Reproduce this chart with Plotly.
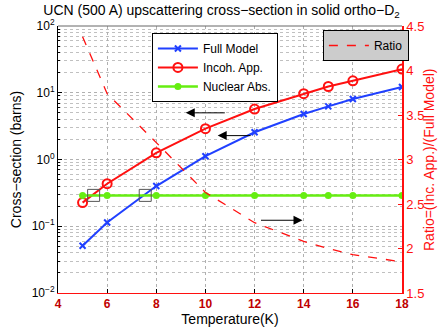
import numpy as np
import plotly.graph_objects as go

# temperatures (K) and cross-sections (barns)
temps = [5, 6, 8, 10, 12, 14, 15, 16, 18]
full_model = [0.051, 0.114, 0.40, 1.12, 2.56, 4.8, 6.25, 8.05, 12.2]
incoh_app = [0.226, 0.434, 1.26, 2.9, 5.7, 9.7, 12.4, 15.1, 22.6]
nuclear_abs = [0.29, 0.29, 0.29, 0.29, 0.29, 0.29, 0.29, 0.29, 0.29]
ratio = [4.38, 3.74, 3.19, 2.63, 2.29, 2.08, 2.0, 1.93, 1.85]

# crossing markers (small boxes)
cross_t = [5.45, 7.55]
cross_val = [0.29, 0.29]

# arrows: (tail T, head T, level)
arrow_tail = [10.85, 11.9, 12.2]
arrow_head = [9.2, 10.5, 13.95]
arrow_level = [5.0, 2.28, 0.123]

y_ticks = [0.01, 0.1, 1, 10, 100]
y_ticktext = ["10<sup>−2</sup>", "10<sup>−1</sup>", "10<sup>0</sup>", "10<sup>1</sup>", "10<sup>2</sup>"]
minor_vals = [m * d for d in [0.01, 0.1, 1, 10] for m in range(2, 10)]

FONT = "Liberation Sans, Arial, sans-serif"
BLUE = "#2040ff"
RED = "#ff1010"
GREEN = "#66ee11"

fig = go.Figure()

fig.add_trace(go.Scatter(x=temps, y=full_model, name="Full Model", mode="lines+markers",
                         line=dict(color=BLUE, width=2),
                         marker=dict(symbol="x-thin", size=6, line=dict(color=BLUE, width=2))))
fig.add_trace(go.Scatter(x=temps, y=incoh_app, name="Incoh. App.", mode="lines+markers",
                         line=dict(color=RED, width=2),
                         marker=dict(symbol="circle-open", size=9, color=RED, line=dict(width=2))))
fig.add_trace(go.Scatter(x=temps, y=nuclear_abs, name="Nuclear Abs.", mode="lines+markers",
                         line=dict(color=GREEN, width=2.5),
                         marker=dict(symbol="circle", size=7, color=GREEN)))
fig.add_trace(go.Scatter(x=cross_t, y=cross_val, mode="markers", showlegend=False,
                         marker=dict(symbol="square-open", size=12, color="#555555", line=dict(width=1))))
fig.add_trace(go.Scatter(x=temps, y=ratio, name="Ratio", mode="lines", yaxis="y2",
                         legend="legend2",
                         line=dict(color=RED, width=1.3, dash="dash")))

for t0, t1, v in zip(arrow_tail, arrow_head, arrow_level):
    fig.add_annotation(x=t1, y=np.log10(v), ax=t0, ay=np.log10(v), xref="x", yref="y",
                       axref="x", ayref="y", text="", showarrow=True,
                       arrowhead=2, arrowsize=1.8, arrowwidth=1, arrowcolor="black")

# right axis title
fig.add_annotation(text="Ratio=(Inc. App.)/(Full Model)", xref="paper", yref="paper",
                   x=1.077, y=0.5, xanchor="center", yanchor="middle", textangle=-90,
                   showarrow=False, font=dict(color=RED, size=14))

fig.update_layout(
    width=443, height=330,
    margin=dict(l=58, r=41, t=26, b=37, autoexpand=False),
    paper_bgcolor="white", plot_bgcolor="white",
    font=dict(family=FONT, size=12, color="black"),
    title=dict(text="UCN (500 A) upscattering cross−section in solid ortho−D<sub>2</sub>",
               x=0.5, xanchor="center", y=0.985, yanchor="top",
               font=dict(size=14)),
    xaxis=dict(range=[4, 18], tickvals=[4, 6, 8, 10, 12, 14, 16, 18],
               ticks="inside", ticklen=4, tickcolor="black",
               showline=True, linecolor=RED, linewidth=1, mirror=False,
               showgrid=True, gridcolor="#b0b0b0", griddash="dot", gridwidth=1,
               zeroline=False, automargin=False,
               tickfont=dict(color="#c00000", size=12, family="Liberation Sans, Arial", weight="bold"),
               title=dict(text="Temperature(K)", font=dict(size=14), standoff=2)),
    yaxis=dict(type="log", range=[-2, 2], tickvals=y_ticks, ticktext=y_ticktext,
               ticks="inside", ticklen=4, tickcolor="black",
               showline=True, linecolor="black", linewidth=1,
               showgrid=True, gridcolor="#b0b0b0", griddash="dot", gridwidth=1,
               minor=dict(tickvals=minor_vals, ticks="inside", ticklen=2, tickcolor="black",
                          showgrid=True, gridcolor="#c0c0c0", griddash="dot", gridwidth=1),
               zeroline=False, automargin=False,
               title=dict(text="Cross−section (barns)", font=dict(size=14), standoff=6)),
    yaxis2=dict(overlaying="y", side="right", range=[1.5, 4.5],
                tickvals=[1.5, 2, 2.5, 3, 3.5, 4, 4.5],
                ticks="inside", ticklen=4, tickcolor=RED,
                showline=True, linecolor=RED, linewidth=1.5,
                showgrid=False, zeroline=False, automargin=False,
                tickfont=dict(color=RED, size=13)),
    legend=dict(x=0.273, y=0.974, xanchor="left", yanchor="top",
                bgcolor="white", bordercolor="black", borderwidth=1,
                font=dict(size=12), tracegroupgap=0, itemwidth=40),
    legend2=dict(x=0.77, y=0.985, xanchor="left", yanchor="top",
                 bgcolor="#cccccc", bordercolor="black", borderwidth=1,
                 font=dict(size=12), itemwidth=40),
)

# top border line
fig.add_shape(type="line", xref="paper", yref="paper", x0=0, x1=1, y0=1, y1=1,
              line=dict(color="#666666", width=1))

fig.write_html("out.html", config={"displayModeBar": False},
               post_script="document.body.style.margin='0';")
